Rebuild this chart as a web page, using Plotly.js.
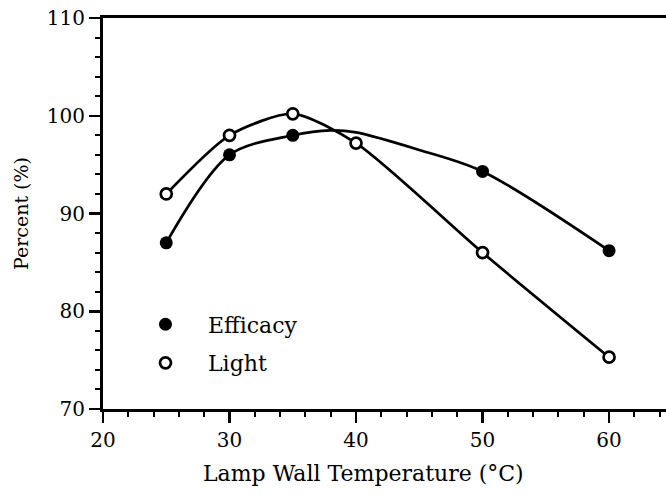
<!DOCTYPE html>
<html>
<head>
<meta charset="utf-8">
<script src="https://cdn.plot.ly/plotly-3.0.1.min.js"></script>
<style>
html,body{margin:0;padding:0;background:#fff;overflow:hidden;}
#chart{width:666px;height:495px;}
</style>
</head>
<body>
<div id="chart"></div>
<script>
// Measured points
const temps = [25, 30, 35, 40, 50, 60];
const efficacyX = [25, 30, 35, 50, 60];
const efficacyY = [87.0, 96.0, 98.0, 94.3, 86.2];
const lightY = [92.0, 98.0, 100.2, 97.2, 86.0, 75.3];
// Hand-drawn efficacy curve
const efficacyCurveX = [25, 30, 35, 38, 40, 45, 50, 60];
const efficacyCurveY = [87.0, 96.0, 98.0, 98.5, 98.3, 96.5, 94.3, 86.2];
const xTicks = [20, 30, 40, 50, 60];
const yTicks = [70, 80, 90, 100, 110];
const seriesNames = ['Efficacy', 'Light'];
const xTitle = 'Lamp Wall Temperature (°C)';
const yTitle = 'Percent (%)';

const FONT = 'DejaVu Serif';
const traces = [
  {x: efficacyCurveX, y: efficacyCurveY, mode: 'lines', line: {color: '#000', width: 2.7, shape: 'spline', smoothing: 0.9}, showlegend: false, hoverinfo: 'skip'},
  {x: temps, y: lightY, mode: 'lines', line: {color: '#000', width: 2.7, shape: 'spline', smoothing: 0.7}, showlegend: false, hoverinfo: 'skip'},
  {x: efficacyX, y: efficacyY, mode: 'markers', name: seriesNames[0], legendgroup: 'a',
   marker: {symbol: 'circle', size: 13, color: '#000', line: {color: '#000', width: 0}}},
  {x: temps, y: lightY, mode: 'markers', name: seriesNames[1], legendgroup: 'b',
   marker: {symbol: 'circle', size: 11, color: '#fff', line: {color: '#000', width: 2.7}}}
];

const layout = {
  width: 666, height: 495,
  margin: {l: 103, r: 0, t: 18, b: 86},
  paper_bgcolor: '#fff', plot_bgcolor: '#fff',
  font: {family: FONT, size: 20, color: '#000'},
  showlegend: true,
  legend: {x: 0.0355, y: 0.27, xanchor: 'left', yanchor: 'top', bgcolor: 'rgba(0,0,0,0)',
           itemwidth: 75, font: {family: FONT, size: 22, color: '#000'}, tracegroupgap: 7},
  xaxis: {
    range: [20, 64.5], tickmode: 'array', tickvals: xTicks, ticktext: xTicks.map(String),
    showgrid: false, zeroline: false, showline: true, linecolor: '#000', linewidth: 3, mirror: true,
    ticks: 'outside', ticklen: 11, tickwidth: 2.5, tickcolor: '#000',
    minor: {dtick: 2, tick0: 20, ticks: 'outside', ticklen: 5, tickwidth: 2, tickcolor: '#000', showgrid: false},
    tickfont: {family: FONT, size: 20, color: '#000'}
  },
  yaxis: {
    range: [70, 110], tickmode: 'array', tickvals: yTicks, ticktext: yTicks.map(String),
    showgrid: false, zeroline: false, showline: true, linecolor: '#000', linewidth: 3, mirror: false,
    ticks: 'outside', ticklen: 11, tickwidth: 2.5, tickcolor: '#000',
    minor: {dtick: 2, tick0: 70, ticks: 'outside', ticklen: 5, tickwidth: 2, tickcolor: '#000', showgrid: false},
    tickfont: {family: FONT, size: 20, color: '#000'},
    title: {text: yTitle, font: {family: FONT, size: 19, color: '#000'}, standoff: 14}
  },
  annotations: [
    {text: xTitle, xref: 'paper', yref: 'paper', x: 0.462, y: -0.164, xanchor: 'center', yanchor: 'middle',
     showarrow: false, font: {family: FONT, size: 22, color: '#000'}}
  ]
};

Plotly.newPlot('chart', traces, layout, {displayModeBar: false, staticPlot: true});
</script>
</body>
</html>
